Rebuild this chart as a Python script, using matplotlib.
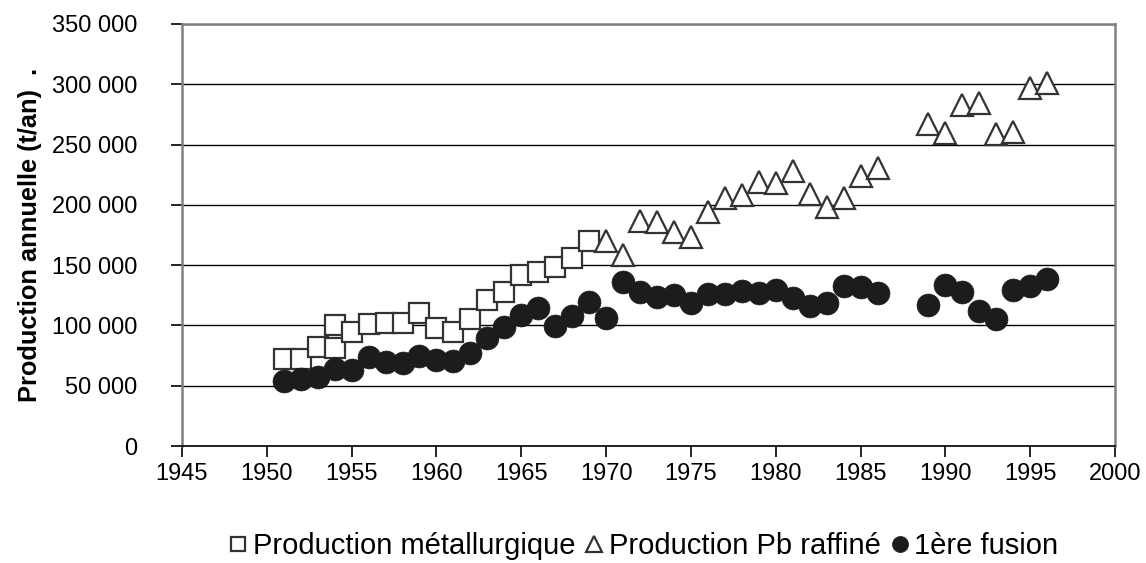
import matplotlib
matplotlib.use("Agg")
import matplotlib.pyplot as plt
from matplotlib.ticker import FuncFormatter, MultipleLocator

plt.rcParams['font.family'] = ['Liberation Sans', 'DejaVu Sans']

# Production métallurgique
met_years = [1951, 1952, 1953, 1954, 1954, 1955, 1956, 1957, 1958, 1959, 1960,
             1961, 1962, 1963, 1964, 1965, 1966, 1967, 1968, 1969]
met_vals = [71900, 72000, 82000, 81000, 100300, 94800, 101200, 101700, 101700, 110000, 97600,
            94600, 105400, 121000, 128000, 142000, 144300, 148200, 155900, 170200]

# Production Pb raffiné
raf_years = [1970, 1971, 1972, 1973, 1974, 1975, 1976, 1977, 1978, 1979, 1980,
             1981, 1982, 1983, 1984, 1985, 1986,
             1989, 1990, 1991, 1992, 1993, 1994, 1995, 1996]
raf_vals = [170200, 158400, 186600, 186000, 177200, 173600, 194300, 205400, 208100, 219200, 218500,
            227700, 208700, 197900, 205900, 223900, 230200,
            267000, 259800, 282800, 284200, 258700, 260100, 296600, 300700]

# 1ère fusion
fus_years = [1951, 1952, 1953, 1954, 1955, 1956, 1957, 1958, 1959, 1960, 1961,
             1962, 1963, 1964, 1965, 1966, 1967, 1968, 1969, 1970, 1971,
             1972, 1973, 1974, 1975, 1976, 1977, 1978, 1979, 1980, 1981,
             1982, 1983, 1984, 1985, 1986,
             1989, 1990, 1991, 1992, 1993, 1994, 1995, 1996]
fus_vals = [54200, 55300, 57000, 63800, 63000, 74000, 70000, 69000, 74600, 71300, 70400,
            77400, 89800, 98900, 108600, 114200, 99500, 107800, 119700, 106400, 136200,
            128000, 123800, 125200, 118300, 126000, 126000, 128800, 126600, 129400, 122800,
            116300, 118300, 132900, 132100, 127100,
            116900, 133500, 128000, 112200, 105300, 129400, 132900, 138200]

labels = ["Production métallurgique", "Production Pb raffiné", "1ère fusion"]
y_label = "Production annuelle (t/an)  ."

fig = plt.figure(figsize=(11.46, 5.63), dpi=100)
ax = fig.add_axes([0.1588, 0.2078, 0.9730 - 0.1588, 0.9574 - 0.2078])

edge = '#333333'
l1, = ax.plot(met_years, met_vals, linestyle='none', marker='s', markersize=15,
              markerfacecolor='white', markeredgecolor=edge, markeredgewidth=1.6,
              label=labels[0], clip_on=False, zorder=3)
l2, = ax.plot(raf_years, raf_vals, linestyle='none', marker='^', markersize=16,
              markerfacecolor='white', markeredgecolor=edge, markeredgewidth=1.6,
              label=labels[1], clip_on=False, zorder=4)
l3, = ax.plot(fus_years, fus_vals, linestyle='none', marker='o', markersize=16.5,
              markerfacecolor='#1c1c1c', markeredgecolor='#1c1c1c', markeredgewidth=0.5,
              label=labels[2], clip_on=False, zorder=5)

ax.set_xlim(1945, 2000)
ax.set_ylim(0, 350000)
ax.xaxis.set_major_locator(MultipleLocator(5))
ax.yaxis.set_major_locator(MultipleLocator(50000))
ax.yaxis.set_major_formatter(FuncFormatter(lambda v, p: f"{int(v):,}".replace(",", " ")))

ax.grid(axis='y', color='black', linewidth=1.0, zorder=0)
ax.set_axisbelow(True)

for side in ['top', 'right', 'left']:
    ax.spines[side].set_color('#808080')
    ax.spines[side].set_linewidth(1.8)
ax.spines['bottom'].set_color('black')
ax.spines['bottom'].set_linewidth(1.2)

ax.tick_params(axis='both', direction='out', length=8, width=1.2, color='black',
               labelsize=17)
ax.tick_params(axis='y', pad=24)
ax.tick_params(axis='x', pad=4)

ax.set_ylabel(y_label, fontsize=18.3, fontweight='bold', labelpad=7)

fig.legend(handles=[l1, l2, l3], loc='center', bbox_to_anchor=(0.562, 0.03),
           ncol=3, frameon=False, fontsize=21, markerscale=0.7,
           handlelength=0.6, handletextpad=0.2, columnspacing=0.35)

fig.savefig("out.png", dpi=100)
